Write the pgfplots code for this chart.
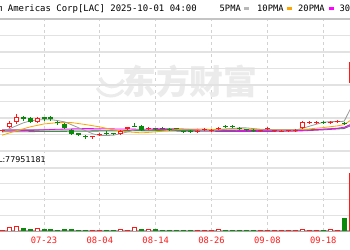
\documentclass[border=0pt]{standalone}
\usepackage{pgfplots}
\pgfplotsset{compat=1.18}
\usepackage{pgfplotstable}
\usepackage{fontspec}
\setmainfont{DejaVu Sans}
\newfontfamily\monof{DejaVu Sans Mono}
\newfontfamily\cjk{Noto Sans CJK SC}
\definecolor{upred}{HTML}{FF1A1A}
\definecolor{dngreen}{HTML}{0A8A0A}
\definecolor{maA}{HTML}{9A9A9A}
\definecolor{maB}{HTML}{FFA500}
\definecolor{maC}{HTML}{FF00FF}
\definecolor{maD}{HTML}{2E9E2E}
\definecolor{maE}{HTML}{8E44AD}
\definecolor{gridc}{HTML}{E2E2E2}
\definecolor{vgrid}{HTML}{D2D2D2}
\definecolor{topline}{HTML}{C4C4C4}
\definecolor{botline}{HTML}{A8A8A8}
\definecolor{wm}{HTML}{EBEBEB}

% up (red, hollow) candles: day index, open, high, low, close
\pgfplotstableread{
i o h l c
-6 2.72 2.75 2.70 2.74
-5 2.83 3.01 2.80 2.95
-4 2.98 3.22 2.92 3.13
-1 2.98 3.13 2.95 3.10
7 2.51 2.55 2.46 2.54
8 2.58 2.65 2.57 2.63
11 2.63 2.75 2.62 2.72
12 2.78 2.84 2.76 2.82
15 2.77 2.83 2.75 2.80
22 2.69 2.73 2.68 2.72
23 2.74 2.79 2.72 2.77
24 2.72 2.76 2.71 2.75
25 2.76 2.82 2.75 2.79
31 2.70 2.74 2.69 2.73
32 2.76 2.82 2.75 2.80
33 2.72 2.75 2.70 2.74
34 2.70 2.73 2.68 2.72
35 2.71 2.74 2.69 2.73
36 2.72 2.76 2.71 2.75
37 2.79 3.01 2.77 2.99
38 2.96 3.02 2.93 2.98
39 2.96 3.02 2.93 2.98
41 2.96 3.02 2.93 2.98
42 2.98 3.04 2.95 3.01
44 4.16 4.92 4.10 4.80
}\upc
% down (green, filled) candles
\pgfplotstableread{
i o h l c
-3 3.13 3.15 3.01 3.07
-2 3.10 3.13 2.95 2.98
0 3.12 3.13 3.01 3.07
1 3.13 3.15 3.01 3.07
2 2.98 3.00 2.90 2.94
3 2.92 2.95 2.77 2.80
4 2.75 2.77 2.60 2.62
5 2.65 2.66 2.57 2.59
6 2.56 2.57 2.46 2.53
9 2.65 2.70 2.60 2.62
10 2.65 2.66 2.58 2.60
13 2.87 2.95 2.845 2.845
14 2.87 2.89 2.72 2.74
16 2.79 2.80 2.75 2.77
17 2.81 2.83 2.78 2.78
18 2.77 2.79 2.74 2.75
19 2.79 2.81 2.76 2.76
20 2.70 2.72 2.65 2.67
21 2.71 2.73 2.66 2.68
26 2.86 2.89 2.80 2.83
27 2.85 2.89 2.80 2.82
28 2.80 2.82 2.76 2.78
29 2.77 2.78 2.73 2.74
30 2.74 2.76 2.71 2.72
40 2.99 3.01 2.94 2.96
43 2.96 2.99 2.92 2.93
}\dnc
% volume (millions)
\pgfplotstableread{
i v
-6 1.3
-5 4.7
-4 6.7
-1 3.4
7 1.3
8 1.3
11 2.5
12 1.3
13 4.7
15 2.5
22 1.3
23 1.3
24 1.3
25 2.5
31 1.3
32 1.3
33 1.3
34 1.3
35 1.3
36 1.3
37 2.5
38 1.3
39 1.3
41 2.5
42 1.3
44 73.7
}\upv
\pgfplotstableread{
i v
-3 4.2
-2 2.5
0 2.5
1 2.5
2 1.3
3 2.5
4 2.5
5 1.3
6 1.3
9 1.3
10 1.3
14 2.5
16 2.5
17 1.3
18 1.3
19 1.3
20 1.3
21 1.3
26 1.3
27 1.3
28 1.3
29 1.3
30 1.3
40 1.3
43 16.5
}\dnv
% moving averages
\pgfplotstableread{
i p
-6 2.68
-5 2.77
-4 2.86
-3 2.95
-2 3.01
-1 3.04
0 3.05
1 3.05
2 3.02
3 2.98
4 2.89
5 2.80
6 2.71
7 2.62
8 2.57
9 2.57
10 2.58
11 2.63
12 2.68
13 2.74
14 2.75
15 2.77
16 2.78
17 2.78
18 2.78
19 2.78
20 2.77
21 2.75
22 2.73
23 2.72
24 2.72
25 2.73
26 2.76
27 2.78
28 2.80
29 2.80
30 2.78
31 2.76
32 2.75
33 2.74
34 2.74
35 2.74
36 2.74
37 2.78
38 2.85
39 2.91
40 2.97
41 2.99
42 2.99
43 3.00
44 3.42
}\maFive
\pgfplotstableread{
i p
-6 2.58
-4 2.71
-2 2.83
0 2.92
2 2.96
4 2.96
6 2.90
8 2.83
10 2.74
12 2.68
14 2.65
16 2.68
18 2.73
20 2.76
22 2.77
24 2.75
26 2.77
28 2.77
30 2.75
32 2.75
34 2.74
36 2.74
38 2.77
40 2.81
42 2.86
43 2.90
44 3.04
}\maTen
\pgfplotstableread{
i p
-6 2.71
-2 2.72
2 2.76
6 2.78
10 2.77
14 2.76
18 2.75
22 2.74
26 2.73
30 2.72
34 2.71
38 2.73
40 2.76
42 2.79
43 2.82
44 2.91
}\maTwenty
\pgfplotstableread{
i p
-6 2.68
0 2.69
6 2.70
12 2.71
18 2.72
24 2.72
30 2.73
36 2.73
40 2.76
42 2.78
43 2.80
44 2.91
}\maThirty
\pgfplotstableread{
i p
-6 2.74
0 2.74
10 2.73
20 2.70
30 2.69
36 2.70
40 2.74
43 2.78
44 2.87
}\maSixty

\pgfplotsset{
  kbase/.style={
    width=360bp, scale only axis,
    xmin=-6.3037, xmax=45.272,
    axis line style={draw=none},
    major tick length=0pt,
    xtick={0,8,16,24,32,40},
    ymajorgrids,
    major y grid style={gridc, line width=1.3bp},
    yticklabels={},
    clip=true,
  },
  body/.style={draw=none, mark=none, forget plot,
    error bars/.cd, y dir=plus, y explicit, error mark=none},
}

\begin{document}
\begin{tikzpicture}[x=1bp,y=1bp]
\path[use as bounding box] (0,0) rectangle (350,250);
\clip (0,0) rectangle (350,250);
\fill[white] (0,0) rectangle (350,250);

% ---------- vertical dashed grid over both panels ----------
\begin{axis}[width=360bp, scale only axis, at={(0bp,19bp)}, anchor=south west,
  height=212bp, xmin=-6.3037, xmax=45.272, ymin=0, ymax=1,
  axis line style={draw=none}, major tick length=0pt,
  xtick={0,8,16,24,32,40}, xticklabels={}, ytick=\empty,
  xmajorgrids, major x grid style={vgrid, dash pattern=on 3bp off 3bp, line width=0.9bp}]
\end{axis}

% watermark
\draw[wm, line width=3.5bp] (100,172) arc[start angle=200, end angle=330, radius=13];
\draw[wm, line width=3bp] (97,162) arc[start angle=210, end angle=320, radius=16];
\node[font=\cjk\bfseries\fontsize{34}{34}\selectfont, text=wm, inner sep=0pt] at (190,169) {东方财富};

% ---------- price panel ----------
\begin{axis}[kbase, at={(0bp,99bp)}, anchor=south west, height=132bp,
  ymin=2.1, ymax=6.1,
  ytick={2.1,2.6,3.1,3.6,4.1,4.6,5.1,5.6},
  extra y ticks={6.1}, extra y tick labels={},
  extra y tick style={major y grid style={topline, line width=1.3bp}},
  xticklabels={}]
% moving averages
\addplot[maE, line width=0.8bp, mark=none] table[x=i,y=p] {\maSixty};
\addplot[maD, line width=0.8bp, mark=none] table[x=i,y=p] {\maThirty};
\addplot[maC, line width=0.8bp, mark=none] table[x=i,y=p] {\maTwenty};
\addplot[maB, line width=0.8bp, mark=none] table[x=i,y=p] {\maTen};
\addplot[maA, line width=0.8bp, mark=none] table[x=i,y=p] {\maFive};
% wicks
\addplot[draw=none, mark=none, forget plot,
  error bars/.cd, y dir=both, y explicit, error mark=none,
  error bar style={draw=dngreen, line width=1bp}]
  table[x=i, y=c, y error plus expr={\thisrow{h}-\thisrow{c}}, y error minus expr={\thisrow{c}-\thisrow{l}}] {\dnc};
\addplot[draw=none, mark=none, forget plot,
  error bars/.cd, y dir=both, y explicit, error mark=none,
  error bar style={draw=upred, line width=1bp}]
  table[x=i, y=o, y error plus expr={\thisrow{h}-\thisrow{o}}, y error minus expr={\thisrow{o}-\thisrow{l}}] {\upc};
% bodies
\addplot[body, error bar style={draw=dngreen, line width=5bp, line cap=butt}]
  table[x=i, y=c, y error expr={\thisrow{o}-\thisrow{c}}] {\dnc};
\addplot[body, error bar style={draw=upred, line width=5bp, line cap=butt}]
  table[x=i, y=o, y error expr={\thisrow{c}-\thisrow{o}}] {\upc};
\addplot[body, error bar style={draw=white, line width=3bp, line cap=butt}]
  table[x=i, y expr={\thisrow{o}+0.0303}, y error expr={max(\thisrow{c}-\thisrow{o}-0.0606,0)}] {\upc};
\end{axis}

% ---------- volume panel ----------
\begin{axis}[kbase, at={(0bp,19bp)}, anchor=south west, height=63bp,
  ymin=0, ymax=80,
  ytick={20,40,60,80},
  extra y ticks={0}, extra y tick labels={},
  extra y tick style={major y grid style={botline, line width=1.3bp}},
  xticklabels={07-23,08-04,08-14,08-26,09-08,09-18},
  xticklabel style={font=\monof\fontsize{8.8}{10}\selectfont, text=upred, anchor=base, inner sep=0pt, yshift=-13bp}]
\addplot[body, error bar style={draw=dngreen, line width=5bp, line cap=butt}]
  table[x=i, y expr=0, y error=v] {\dnv};
\addplot[body, error bar style={draw=upred, line width=5bp, line cap=butt}]
  table[x=i, y expr=0, y error=v] {\upv};
\addplot[body, error bar style={draw=white, line width=3bp, line cap=butt}]
  table[x=i, y expr=0, y error expr={max(\thisrow{v}-1.27,0)}] {\upv};
\end{axis}

% title and legend
\node[anchor=base east, inner sep=0pt, font=\monof\fontsize{9}{10}\selectfont] at (197,239) {Lithium Americas Corp[LAC] 2025-10-01 04:00};
\node[anchor=base west, inner sep=0pt, font=\monof\fontsize{8.8}{10}\selectfont] at (219.5,239) {5PMA};
\fill[maA!70] (244,240) rectangle (249,243);
\node[anchor=base west, inner sep=0pt, font=\monof\fontsize{8.8}{10}\selectfont] at (257,239) {10PMA};
\fill[maB] (287,240) rectangle (292,243);
\node[anchor=base west, inner sep=0pt, font=\monof\fontsize{8.8}{10}\selectfont] at (298,239) {20PMA};
\fill[maC] (329,240) rectangle (334,243);
\node[anchor=base west, inner sep=0pt, font=\monof\fontsize{8.8}{10}\selectfont] at (339.5,239) {30PMA};
% volume label
\node[anchor=base east, inner sep=0pt, font=\fontsize{8}{9}\selectfont] at (46,87.3) {VOL:77951181};
\end{tikzpicture}
\end{document}
